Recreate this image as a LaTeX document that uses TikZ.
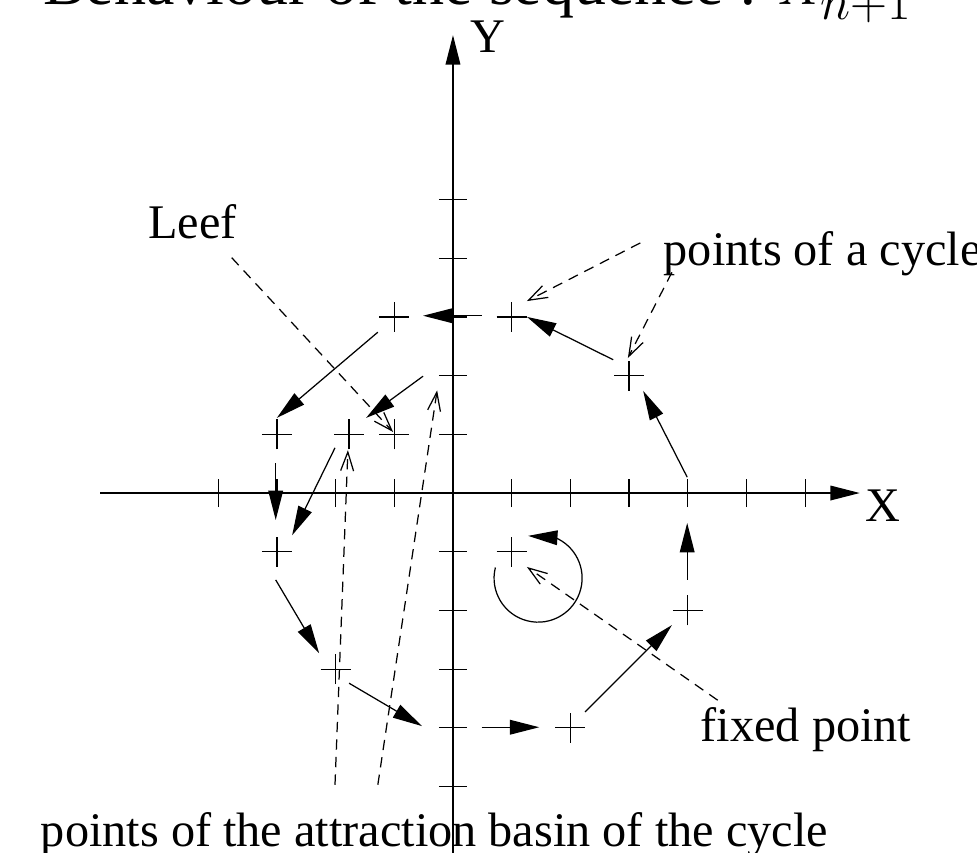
\documentclass[tikz,border=0pt]{standalone}
\usepackage{fontspec}
\newfontfamily\tms{Liberation Serif}
\usetikzlibrary{arrows.meta,shapes.misc}
\begin{document}
\begin{tikzpicture}[
  line width=0.6pt,
  arr/.style={-{Triangle[length=0.5cm,width=0.25cm]}},
  dsh/.style={dash pattern=on 5pt off 3.5pt, -{Straight Barb[length=0.32cm,width=0.22cm]}},
  plusmark/.style={draw, cross out, rotate=45, minimum size=0.34cm, inner sep=0pt},
  lbl/.style={inner sep=0pt, anchor=base west, font=\tms\fontsize{23.4}{28}\selectfont},
]
\useasboundingbox (-7.717,-6.116) rectangle (8.927,8.399);
\clip (-7.717,-6.116) rectangle (8.927,8.399);
% title (cut by the top edge)
\node[anchor=base west, inner sep=0pt, font=\tms\fontsize{31}{37}\selectfont] (title) at (-6.99,8.33) {Behaviour of the sequence : $X_{\mbox{\fontsize{23}{27}\selectfont$n{+}1$}}$};
% axes
\coordinate (xs) at (-6.01,0); \coordinate (xe) at (6.93,0);
\coordinate (ys) at (0,-6.3); \coordinate (ye) at (0,7.80);
\draw[arr] (xs) -- (xe);
\draw[arr] (ys) -- (ye);
\foreach \i in {-4,-3,-2,-1,1,2,3,4,5,6} \draw (\i,-0.24) -- (\i,0.24);
\foreach \j in {-5,-4,-3,-2,-1,1,2,3,4,5} \draw (-0.24,\j) -- (0.24,\j);
\node[lbl] (xl) at (7.02,-0.49) {X};
\node[lbl] (yl) at (0.29,7.51) {Y};
% points
\node[plusmark] (c1) at (-1,3) {};
\node[plusmark] (c2) at (1,3) {};
\node[plusmark] (c3) at (3,2) {};
\node[plusmark] (c4) at (-3,1) {};
\node[plusmark] (c5) at (-3,-1) {};
\node[plusmark] (c6) at (-2,-3) {};
\node[plusmark] (c7) at (2,-4) {};
\node[plusmark] (c8) at (4,-2) {};
\node[plusmark] (b1) at (-1.77,1) {};
\node[plusmark] (leaf) at (-1,1) {};
\node[plusmark] (fp) at (1,-1) {};
% arrow ends
\coordinate (a1s) at (3.99,0.27);   \coordinate (a1e) at (3.24,1.74);
\coordinate (a2s) at (2.73,2.27);   \coordinate (a2e) at (1.26,3.0);
\coordinate (a3s) at (0.49,3.02);   \coordinate (a3e) at (-0.51,3.02);
\coordinate (a4s) at (-1.28,2.74);  \coordinate (a4e) at (-3.0,1.28);
\coordinate (a5s) at (-0.51,1.99);  \coordinate (a5e) at (-1.48,1.28);
\coordinate (a6s) at (-2.01,0.77);  \coordinate (a6e) at (-2.74,-0.72);
\coordinate (a7s) at (-3.02,0.51);  \coordinate (a7e) at (-3.02,-0.46);
\coordinate (a8s) at (-3.02,-1.48); \coordinate (a8e) at (-2.28,-2.73);
\coordinate (a9s) at (-1.77,-3.24); \coordinate (a9e) at (-0.53,-3.97);
\coordinate (a10s) at (0.49,-3.99); \coordinate (a10e) at (1.47,-3.99);
\coordinate (a11s) at (2.25,-3.73); \coordinate (a11e) at (3.73,-2.25);
\coordinate (a12s) at (3.99,-1.48); \coordinate (a12e) at (3.99,-0.51);
\foreach \k in {1,...,12} \draw[arr] (a\k s) -- (a\k e);
% loop around the fixed point
\coordinate (fpc) at (1.45,-1.45);
\coordinate (fptip) at (1.28,-0.73);
\draw[arr] (fpc) ++(166:0.75) arc[start angle=166, end angle=427, radius=0.75] -- (fptip);
% labels
\node[lbl] (leeft) at (-5.20,4.34) {Leef};
\node[lbl] (cyct) at (3.58,3.88) {points of a cycle};
\node[lbl] (fixt) at (4.21,-4.24) {fixed point};
\node[lbl] (bast) at (-7.03,-6.03) {points of the attraction basin of the cycle};
% dashed pointers
\coordinate (d1s) at (-3.77,4.01); \coordinate (d1e) at (-1.02,1.04);
\coordinate (d2s) at (3.19,4.26);  \coordinate (d2e) at (1.26,3.27);
\coordinate (d3s) at (3.73,3.76);  \coordinate (d3e) at (2.98,2.30);
\coordinate (d4s) at (4.51,-3.53); \coordinate (d4e) at (1.26,-1.26);
\coordinate (d5s) at (-2.01,-4.97); \coordinate (d5e) at (-1.79,0.73);
\coordinate (d6s) at (-1.28,-4.97); \coordinate (d6e) at (-0.27,1.75);
\foreach \k in {1,...,6} \draw[dsh] (d\k s) -- (d\k e);
\end{tikzpicture}
\end{document}
